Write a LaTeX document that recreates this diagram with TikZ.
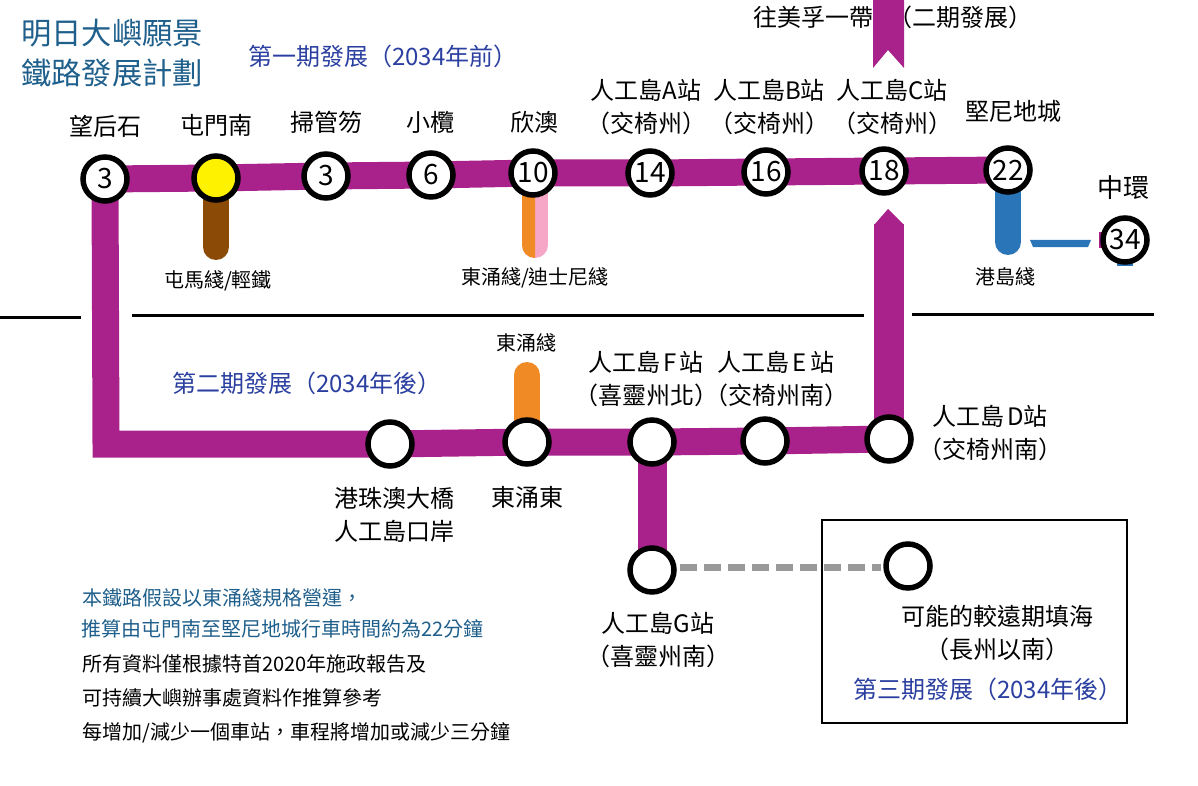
\documentclass[tikz,border=0pt]{standalone}
\usepackage{xcolor}
\usepackage{fontspec}
\setmainfont{Noto Sans CJK TC}
\usetikzlibrary{backgrounds}
\definecolor{railpurple}{HTML}{A9228B}
\definecolor{tuenmabrown}{HTML}{8B4A05}
\definecolor{tcorange}{HTML}{F08A24}
\definecolor{drlpink}{HTML}{F6A6C6}
\definecolor{islandblue}{HTML}{2A75B8}
\definecolor{titleblue}{HTML}{1F5F8B}
\definecolor{phaseblue}{HTML}{2B3FA0}
\tikzset{
  stn/.style={circle, draw=black, fill=white, line width=5.5pt, minimum size=44pt, inner sep=0pt, font=\fontsize{28}{28}\selectfont},
  rail/.style={railpurple, line width=27pt, line join=miter},
  spur/.style={line width=26pt, line cap=round},
  divider/.style={line width=3pt},
  lbl/.style={align=center, inner sep=0pt, font=\fontsize{24}{33}\selectfont},
  smalllbl/.style={inner sep=0pt, font=\fontsize{20}{20}\selectfont},
  phaselbl/.style={lbl, anchor=west, text=phaseblue},
  notelbl/.style={smalllbl, anchor=west}
}
\begin{document}
\begin{tikzpicture}[x=1pt, y=-1pt]
      \useasboundingbox (0, 0) rectangle (1198, 786);

      \node[stn] (mhs) at (105, 179) {3};
      \node[stn, fill=yellow] (tmn) at (216, 178) {};
      \node[stn] (skw) at (326, 176) {3};
      \node[stn] (slm) at (431, 175) {6};
      \node[stn] (yau) at (533, 173) {10};
      \node[stn] (isa) at (650, 173) {14};
      \node[stn] (isb) at (766, 172) {16};
      \node[stn] (isc) at (884, 171) {18};
      \node[stn] (ktn) at (1008, 170) {22};
      \node[stn] (cen) at (1125, 240) {34};
      \node[stn] (hzm) at (390, 444) {};
      \node[stn] (tce) at (527, 442) {};
      \node[stn] (isf) at (652, 442) {};
      \node[stn] (ise) at (765, 441) {};
      \node[stn] (isd) at (889, 439) {};
      \node[stn] (isg) at (652, 570) {};
      \node[stn] (far) at (908, 566) {};

      \coordinate (cornerl) at (106, 444);
      \coordinate (headd) at (889, 224);
      \coordinate (brownend) at (216, 247);
      \coordinate (yaubranch) at (535, 173);
      \coordinate (yauend) at (535, 245);
      \coordinate (blueend) at (1008, 242);
      \coordinate (orangetop) at (527, 375);
      \coordinate (dashl) at (680, 567);
      \coordinate (dashr) at (881, 567);

      \begin{scope}[on background layer]
        \draw[rail] (ktn.center) -- (isc.center) -- (isb.center) -- (isa.center) -- (yau.center) -- (slm.center) -- (skw.center) -- (tmn.center) -- (mhs.center) -- (cornerl) -- (hzm.center) -- (tce.center) -- (isf.center) -- (ise.center) -- (isd.center);
        \draw[rail, line width=30pt] (isd.center) -- (headd);
        \draw[rail, line width=29pt] (isf.center) -- (isg.center);
        \draw[spur, tuenmabrown] (tmn.center) -- (brownend);
        \draw[spur, drlpink] (yaubranch) -- (yauend);
        \begin{scope}
          \clip (500, 170) rectangle (535, 270);
          \draw[spur, tcorange] (yaubranch) -- (yauend);
        \end{scope}
        \draw[spur, islandblue] (ktn.center) -- (blueend);
        \draw[spur, tcorange] (tce.center) -- (orangetop);
        \fill[islandblue] (1117, 262) rectangle (1133, 266);
        \fill[railpurple] (1099, 232) rectangle (1102, 248);
      \end{scope}

      % arrow ends of the line
      \fill[railpurple] (874, 225) -- (888, 209) -- (904, 225) -- cycle;
      \fill[railpurple] (873, 0) -- (873, 68) -- (888, 50) -- (904, 68) -- (904, 0) -- cycle;
      \fill[islandblue] (1030, 240) -- (1091, 240) -- (1088, 247) -- (1033, 247) -- cycle;

      \draw[divider] (0, 317) -- (81, 317);
      \draw[divider] (132, 315) -- (864, 315);
      \draw[divider] (912, 314) -- (1154, 314);
      \draw[line width=2.5pt] (822, 520) rectangle (1127, 723);
      \draw[gray!80, line width=7pt, dash pattern=on 17pt off 7pt] (dashl) -- (dashr);

      \node[lbl, anchor=west, text=titleblue, font=\fontsize{30.3}{40}\selectfont, align=left] (title) at (21, 53) {明日大嶼願景\\鐵路發展計劃};
      \node[phaselbl] (phase1) at (248, 56) {第一期發展（2034年前）};
      \node[phaselbl] (phase2) at (172, 383) {第二期發展（2034年後）};
      \node[phaselbl] (phase3) at (853, 689) {第三期發展（2034年後）};

      \node[lbl] (lmhs) at (105, 126) {望后石};
      \node[lbl] (ltmn) at (216, 125) {屯門南};
      \node[lbl] (lskw) at (326, 122) {掃管笏};
      \node[lbl] (lslm) at (430, 122) {小欖};
      \node[lbl] (lyau) at (534, 122) {欣澳};
      \node[lbl] (lisa) at (646, 107) {人工島A站\\（交椅州）};
      \node[lbl] (lisb) at (769, 107) {人工島B站\\（交椅州）};
      \node[lbl] (lisc) at (892, 107) {人工島C站\\（交椅州）};
      \node[lbl] (lktn) at (1013, 111) {堅尼地城};
      \node[lbl, font=\fontsize{26}{26}\selectfont] (lcen) at (1123, 188) {中環};
      \node[lbl, anchor=west] (lmui) at (753, 17) {往美孚一帶};
      \node[lbl] (lmui2) at (960, 17) {（二期發展）};

      \node[smalllbl] (ltml) at (218, 281) {屯馬綫/輕鐵};
      \node[smalllbl] (ltcl) at (535, 278) {東涌綫/迪士尼綫};
      \node[smalllbl] (lisl) at (1005, 277) {港島綫};
      \node[smalllbl] (ltcl2) at (526, 343) {東涌綫};

      \node[lbl] (lisf) at (646, 379) {人工島\hspace{3pt}F\hspace{3pt}站\\（喜靈州北）};
      \node[lbl] (lise) at (776, 379) {人工島\hspace{3pt}E\hspace{3pt}站\\（交椅州南）};
      \node[lbl] (lisd) at (990, 433) {人工島\hspace{3pt}D站\\（交椅州南）};
      \node[lbl] (lhzm) at (394, 515) {港珠澳大橋\\人工島口岸};
      \node[lbl] (ltce) at (527, 497) {東涌東};
      \node[lbl] (lisg) at (658, 640) {人工島G站\\（喜靈州南）};
      \node[lbl] (lfar) at (997, 633) {可能的較遠期填海\\（長州以南）};

      \node[notelbl, text=titleblue] (note1) at (82, 598) {本鐵路假設以東涌綫規格營運，};
      \node[notelbl, text=titleblue] (note2) at (81, 629) {推算由屯門南至堅尼地城行車時間約為22分鐘};
      \node[notelbl] (note3) at (82, 664) {所有資料僅根據特首2020年施政報告及};
      \node[notelbl] (note4) at (82, 698) {可持續大嶼辦事處資料作推算參考};
      \node[notelbl] (note5) at (82, 733) {每增加/減少一個車站，車程將增加或減少三分鐘};
    \end{tikzpicture}
\end{document}
